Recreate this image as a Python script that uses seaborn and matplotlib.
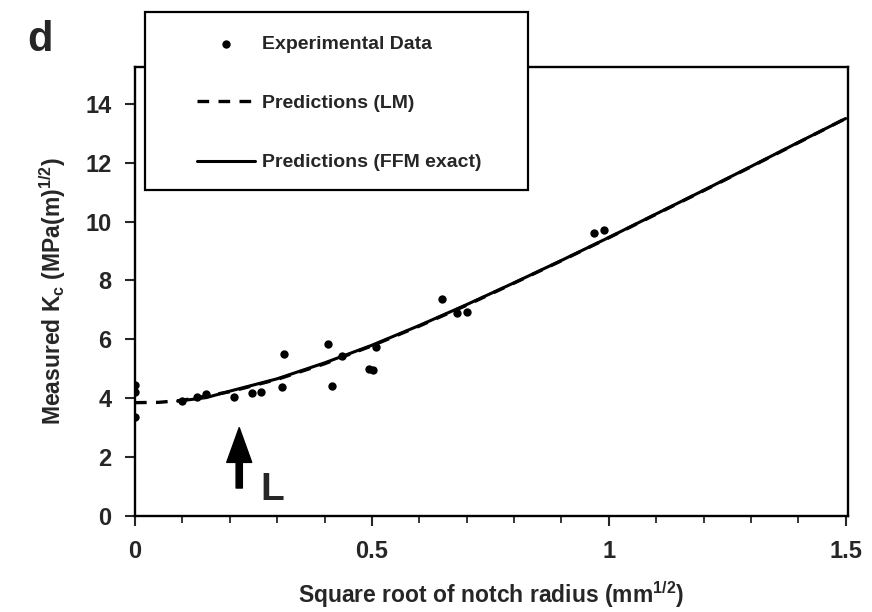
import numpy as np
import pandas as pd
import matplotlib
matplotlib.use("Agg")
import matplotlib.pyplot as plt
import seaborn as sns
from matplotlib.ticker import MultipleLocator
from matplotlib.patches import Rectangle

# experimental points
exp_x = [0.0, 0.0, 0.0, 0.10, 0.13, 0.15, 0.209, 0.247, 0.266, 0.31, 0.314,
         0.407, 0.416, 0.437, 0.494, 0.503, 0.508, 0.648, 0.679, 0.70, 0.968, 0.99]
exp_y = [4.45, 4.2, 3.36, 3.90, 4.05, 4.15, 4.05, 4.18, 4.2, 4.38, 5.5,
         5.84, 4.4, 5.44, 5.0, 4.96, 5.75, 7.37, 6.88, 6.93, 9.62, 9.72]

# LM prediction (dashed)
lm_x = [0.0, 0.05, 0.1, 0.2, 0.3, 0.4, 0.5, 0.6, 0.7, 0.8, 0.9, 1.0,
        1.1, 1.2, 1.3, 1.4, 1.5]
lm_y = [3.85, 3.86, 3.93, 4.22, 4.64, 5.17, 5.78, 6.45, 7.16, 7.91, 8.67, 9.45,
        10.25, 11.05, 11.86, 12.68, 13.5]

# FFM exact prediction (solid)
ffm_x = [0.09, 0.15, 0.2, 0.3, 0.4, 0.5, 0.6, 0.7, 0.8, 0.9, 1.0,
         1.1, 1.2, 1.3, 1.4, 1.5]
ffm_y = [3.9, 4.02, 4.24, 4.66, 5.2, 5.8, 6.47, 7.18, 7.92, 8.68, 9.46,
         10.26, 11.06, 11.87, 12.69, 13.5]

L_pos = 0.22

sns.set_style("ticks")
plt.rcParams['font.family'] = ['Liberation Sans', 'DejaVu Sans']
plt.rcParams['mathtext.default'] = 'regular'

fig = plt.figure(figsize=(8.72, 6.12), dpi=100)
ax = fig.add_axes([135/872, 1 - 516/612, (848 - 135)/872, (516 - 67)/612])

sns.scatterplot(x=exp_x, y=exp_y, ax=ax, color='black', s=36, linewidth=0,
                label='Experimental Data', zorder=3)
sns.lineplot(x=lm_x, y=lm_y, ax=ax, color='black', lw=2.4,
             label='Predictions (LM)', dashes=False, sort=False)
ax.lines[-1].set_dashes((3.5, 2.8))
sns.lineplot(x=ffm_x, y=ffm_y, ax=ax, color='black', lw=2.2,
             label='Predictions (FFM exact)', sort=False)

ax.set_xlim(0, 1.505)
ax.set_ylim(0, 15.25)
ax.xaxis.set_minor_locator(MultipleLocator(0.1))
ax.yaxis.set_major_locator(MultipleLocator(2))
ax.set_xticks([0, 0.5, 1, 1.5])
ax.set_xticklabels(['0', '0.5', '1', '1.5'])
ax.tick_params(axis='both', which='major', direction='out', length=7, width=1.5,
               labelsize=17, pad=10)
ax.tick_params(axis='x', which='minor', direction='out', length=5, width=1.3)
for lab in ax.get_xticklabels() + ax.get_yticklabels():
    lab.set_fontweight('bold')
for sp in ax.spines.values():
    sp.set_linewidth(1.7)
    sp.set_color('black')

ax.set_xlabel(r'Square root of notch radius (mm$^{1/2}$)', fontsize=16.5,
              fontweight='bold', labelpad=12)
ax.set_ylabel(r'Measured K$_{c}$ (MPa(m)$^{1/2}$)', fontsize=16.5,
              fontweight='bold', labelpad=12)

ax.annotate('', xy=(L_pos, 3.0), xytext=(L_pos, 0.95),
            arrowprops=dict(width=4.5, headwidth=18, headlength=25,
                            facecolor='black', edgecolor='black', shrink=0))
ax.text(0.264, 0.55, 'L', fontsize=28, fontweight='bold', ha='left', va='baseline')

fig.text(27/872, 1 - 40/612, 'd', fontsize=30, fontweight='bold',
         ha='left', va='center')

# legend box (white, drawn over the top spine)
box = Rectangle((145/872, 1 - 190/612), (528 - 145)/872, (190 - 12)/612,
                transform=fig.transFigure, facecolor='white', edgecolor='black',
                linewidth=1.6, zorder=4, clip_on=False)
ax.add_patch(box)

leg = ax.legend(loc='upper left', bbox_to_anchor=(197/872, 1 - 35/612),
                bbox_transform=fig.transFigure, prop={'size': 14, 'weight': 'bold'},
                frameon=False, labelspacing=2.15, handlelength=3.0,
                handletextpad=0.35, borderpad=0, borderaxespad=0)
leg.set_zorder(5)

fig.savefig('out.png', dpi=100)
